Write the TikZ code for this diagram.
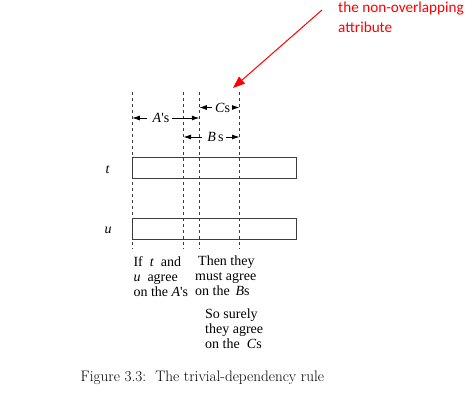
\documentclass[tikz,border=0pt]{standalone}
\usepackage{fontspec}
\newfontfamily\figfont{Liberation Serif}
\newfontfamily\notefont{Carlito}
\usetikzlibrary{arrows.meta}
\definecolor{notered}{RGB}{255,0,0}
\definecolor{linegray}{RGB}{60,60,60}
\tikzset{
  guide/.style={draw=linegray, line width=0.7pt, dash pattern=on 3pt off 3pt},
  rowbox/.style={draw=linegray, line width=0.9pt},
  figtext/.style={font=\figfont\fontsize{14}{15}\selectfont, inner sep=0pt, align=left},
  dimarrow/.style={draw=black, line width=0.8pt, -{Latex[length=7.5pt,width=5pt]}},
  notearrow/.style={draw=notered, line width=1pt, -{Triangle[length=12pt,width=9pt]}},
}
\begin{document}
\begin{tikzpicture}[x=1pt,y=-1pt]
\useasboundingbox (0,0) rectangle (474,403);
% guide line coordinates
\coordinate (l1t) at (132.3,92); \coordinate (l1b) at (132.3,249);
\coordinate (l2t) at (183.5,92); \coordinate (l2b) at (183.5,249);
\coordinate (l3t) at (199.3,92); \coordinate (l3b) at (199.3,249);
\coordinate (l4t) at (239.5,92); \coordinate (l4b) at (239.5,249);
\draw[guide] (l1t) -- (l1b);
\draw[guide] (l2t) -- (l2b);
\draw[guide] (l3t) -- (l3b);
\draw[guide] (l4t) -- (l4b);
% tuple boxes
\draw[rowbox] (132.3,157) rectangle (296.7,178.5);
\draw[rowbox] (132.3,218) rectangle (296.7,239);
\node[figtext] (tlab) at (107.5,170) {\itshape t};
\node[figtext] (ulab) at (108,230) {\itshape u};
% dimension labels
\node[figtext] (cs) at (222.5,107.5) {\textit{C}s};
\node[figtext] (as) at (161,118) {\textit{A}'s};
\node[figtext] (bs) at (215.5,137) {\textit{B}\,s};
\draw[dimarrow] ([xshift=-3pt]cs.west) -- (cs.west -| l3t);
\draw[dimarrow] ([xshift=2pt]cs.east) -- (cs.east -| l4t);
\draw[dimarrow] ([xshift=-6pt]as.west) -- (as.west -| l1t);
\draw[dimarrow] ([xshift=3pt]as.east) -- (as.east -| l3t);
\draw[dimarrow] ([xshift=-5pt]bs.west) -- (bs.west -| l2t);
\draw[dimarrow] ([xshift=2pt]bs.east) -- (bs.east -| l4t);
% explanatory texts
\node[figtext, anchor=north west] (ta) at (133.3,256) {If\ \ \textit{t}\ \ and\\\textit{u}\ \ agree\\on the \textit{A}'s};
\node[figtext, anchor=north west] (tb) at (195,256) {\hspace{3pt}Then they\\must agree\\on the\, \textit{B}s};
\node[figtext, anchor=north west] (tc) at (205,309) {So surely\\they agree\\on the\ \ \textit{C}s};
% caption
\node[inner sep=0pt, anchor=west, font=\fontsize{15.2}{18}\selectfont] (cap) at (80.5,378) {Figure 3.3:\ \ The trivial-dependency rule};
% red annotation
\node[inner sep=0pt, anchor=north west, align=left, text=notered, font=\notefont\fontsize{15.2}{19.5}\selectfont] (note) at (338,2) {the non-overlapping\\attribute};
\coordinate (ns) at (322,10);
\coordinate (nt) at (233,88);
\draw[notearrow] (ns) -- (nt);
\end{tikzpicture}
\end{document}
